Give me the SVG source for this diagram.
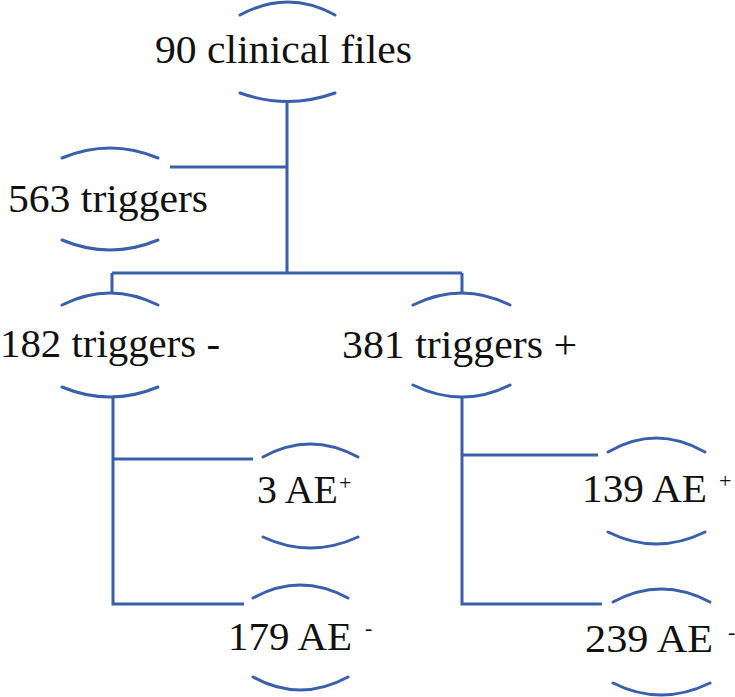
<svg xmlns="http://www.w3.org/2000/svg" width="735" height="697" viewBox="0 0 735 697">
<style>
.arc{fill:none;stroke:#3a5fab;stroke-width:3;stroke-linecap:round}
.conn{fill:none;stroke:#3a5fab;stroke-width:3}
.t{font-family:'Liberation Serif','DejaVu Serif','Tinos','Noto Serif','Times New Roman',serif;font-size:41px;fill:#111}
.s{font-family:'Liberation Serif','DejaVu Serif','Tinos','Noto Serif','Times New Roman',serif;font-size:22px;fill:#111}
</style>
<rect width="735" height="697" fill="#fff"/>
<g id="connectors">
<path class="conn" d="M287 100V273M170 167H287M112 273H462M112 273V293M462 273V293M113 397V604H244M113 459H253M462 397V604H602M462 455H598"/>
</g>
<g id="n-clinical">
<path class="arc" d="M240 15Q288 -11 335 15"/>
<path class="arc" d="M240 93Q288 110 335 93"/>
<text class="t" x="155" y="63" textLength="257" lengthAdjust="spacingAndGlyphs">90 clinical files</text>
</g>
<g id="n-563">
<path class="arc" d="M62 158Q110 138 158 158"/>
<path class="arc" d="M62 240Q110 260 158 240"/>
<text class="t" x="8" y="212" textLength="200" lengthAdjust="spacingAndGlyphs">563 triggers</text>
</g>
<g id="n-182">
<path class="arc" d="M62 305Q110 281 158 305"/>
<path class="arc" d="M62 387Q110 407 158 387"/>
<text class="t" x="0" y="357" textLength="220" lengthAdjust="spacingAndGlyphs">182 triggers -</text>
</g>
<g id="n-381">
<path class="arc" d="M413 305Q462 281 510 305"/>
<path class="arc" d="M413 385Q462 409 510 385"/>
<text class="t" x="342" y="358" textLength="235" lengthAdjust="spacingAndGlyphs">381 triggers +</text>
</g>
<g id="n-3ae">
<path class="arc" d="M263 457Q310 431 358 457"/>
<path class="arc" d="M263 537Q310 559 358 537"/>
<text class="t" x="257" y="503" textLength="81" lengthAdjust="spacingAndGlyphs">3 AE</text>
<text class="s" x="339" y="490">+</text>
</g>
<g id="n-179ae">
<path class="arc" d="M253 598Q300 572 348 598"/>
<path class="arc" d="M253 677Q300 703 348 677"/>
<text class="t" x="228" y="650" textLength="124" lengthAdjust="spacingAndGlyphs">179 AE</text>
<text class="s" x="365" y="635">-</text>
</g>
<g id="n-139ae">
<path class="arc" d="M608 452Q656 424 705 452"/>
<path class="arc" d="M608 532Q656 556 705 532"/>
<text class="t" x="582" y="502" textLength="125" lengthAdjust="spacingAndGlyphs">139 AE</text>
<text class="s" x="719" y="488">+</text>
</g>
<g id="n-239ae">
<path class="arc" d="M613 602Q661 576 710 602"/>
<path class="arc" d="M613 683Q661 707 710 683"/>
<text class="t" x="585" y="652" textLength="128" lengthAdjust="spacingAndGlyphs">239 AE</text>
<text class="s" x="728" y="639">-</text>
</g>
</svg>
